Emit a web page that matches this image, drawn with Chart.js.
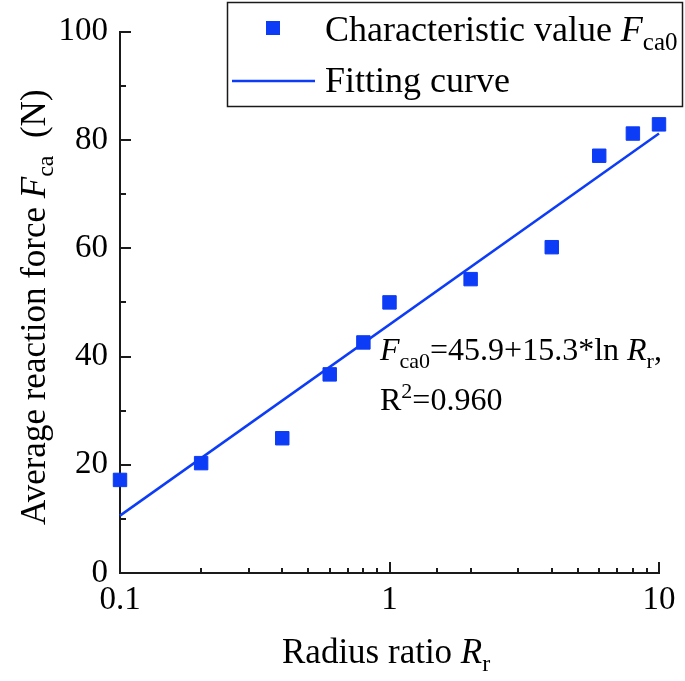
<!DOCTYPE html>
<html>
<head>
<meta charset="utf-8">
<script src="https://cdn.jsdelivr.net/npm/chart.js@4"></script>
<style>
  html, body { margin: 0; padding: 0; background: #fff; }
  #chart { display: block; }
</style>
</head>
<body>
<canvas id="chart" width="685" height="681"></canvas>
<script>
// values
const ratios = [0.1, 0.2, 0.4, 0.6, 0.8, 1, 2, 4, 6, 8, 10];
const forces = [17.2, 20.3, 24.9, 36.7, 42.6, 50.0, 54.3, 60.2, 77.1, 81.2, 82.9];
const fitX = [0.1, 10];
const fitY = [10.6, 81.2];
const yTicks = [0, 20, 40, 60, 80, 100];
const xTickLabels = [0.1, 1, 10];

const BLUE = '#0d3cf7';
const INK = '#1a1a1a';
const SERIF = '"Liberation Serif", "Times New Roman", serif';

// draws a run of text pieces: [text, italic, size, dy]
function richText(ctx, x, y, parts) {
  let cx = x;
  parts.forEach(p => {
    ctx.font = (p[1] ? 'italic ' : '') + p[2] + 'px ' + SERIF;
    ctx.fillText(p[0], cx, y + (p[3] || 0));
    cx += ctx.measureText(p[0]).width;
  });
}

const decor = {
  id: 'decor',
  afterDraw(chart) {
    const ctx = chart.ctx;
    const area = chart.chartArea;
    const xs = chart.scales.x, ys = chart.scales.y;
    ctx.save();

    // inward tick marks
    ctx.strokeStyle = INK;
    ctx.lineWidth = 2;
    ys.ticks.forEach(t => {
      const py = Math.round(ys.getPixelForValue(t.value));
      const len = t.value % 20 === 0 ? 11 : 6;
      ctx.beginPath();
      ctx.moveTo(area.left, py);
      ctx.lineTo(area.left + len, py);
      ctx.stroke();
    });
    xs.ticks.forEach(t => {
      const lg = Math.log10(t.value);
      const major = Math.abs(lg - Math.round(lg)) < 1e-6;
      const px = Math.round(xs.getPixelForValue(t.value));
      ctx.beginPath();
      ctx.moveTo(px, area.bottom);
      ctx.lineTo(px, area.bottom - (major ? 11 : 5));
      ctx.stroke();
    });

    ctx.fillStyle = '#000';
    ctx.textBaseline = 'alphabetic';
    ctx.textAlign = 'left';

    // x title
    richText(ctx, 282, 663, [['Radius ratio ', false, 35], ['R', true, 35], ['r', false, 24, 8]]);

    // y title
    ctx.save();
    ctx.translate(45, 525);
    ctx.rotate(-Math.PI / 2);
    richText(ctx, 0, 0, [['Average reaction force ', false, 35], ['F', true, 35], ['ca', false, 24, 8], ['  (N)', false, 35]]);
    ctx.restore();

    // fit equation
    richText(ctx, 380, 360, [['F', true, 32], ['ca0', false, 22, 8], ['=45.9+15.3*ln ', false, 32], ['R', true, 32], ['r', false, 22, 8], [',', false, 32]]);
    richText(ctx, 380, 410, [['R', false, 32], ['2', false, 22, -12], ['=0.960', false, 32]]);

    // legend box
    ctx.strokeStyle = INK;
    ctx.lineWidth = 1.5;
    ctx.strokeRect(227.5, 2.5, 455, 104);
    ctx.fillStyle = BLUE;
    ctx.fillRect(266, 21, 14, 14);
    ctx.strokeStyle = BLUE;
    ctx.lineWidth = 2.5;
    ctx.beginPath();
    ctx.moveTo(232, 81);
    ctx.lineTo(315, 81);
    ctx.stroke();
    ctx.fillStyle = '#000';
    richText(ctx, 325, 41, [['Characteristic value ', false, 36], ['F', true, 36], ['ca0', false, 25, 9]]);
    richText(ctx, 325, 92, [['Fitting curve', false, 36]]);

    ctx.restore();
  }
};

new Chart(document.getElementById('chart'), {
  type: 'scatter',
  data: {
    datasets: [
      {
        label: 'Fitting curve',
        data: fitX.map((x, i) => ({x: x, y: fitY[i]})),
        showLine: true,
        borderColor: BLUE,
        borderWidth: 2.5,
        pointRadius: 0,
        clip: false,
        order: 2
      },
      {
        label: 'Characteristic value',
        data: ratios.map((x, i) => ({x: x, y: forces[i]})),
        pointStyle: 'rect',
        pointRadius: 9.5,
        backgroundColor: BLUE,
        borderColor: BLUE,
        borderWidth: 1,
        clip: false,
        order: 1
      }
    ]
  },
  options: {
    responsive: false,
    animation: false,
    devicePixelRatio: 1,
    layout: { padding: { top: 31, right: 26, left: 0, bottom: 0 } },
    plugins: { legend: { display: false }, tooltip: { enabled: false } },
    scales: {
      x: {
        type: 'logarithmic',
        min: 0.1,
        max: 10,
        afterFit: s => { s.height = 108; },
        grid: { display: false, drawTicks: false },
        border: { display: true, color: INK, width: 2 },
        ticks: {
          autoSkip: false,
          maxRotation: 0,
          padding: 8,
          color: '#000',
          font: { family: SERIF, size: 33 },
          callback: v => xTickLabels.some(t => Math.abs(t - v) < 1e-9) ? String(v) : ''
        }
      },
      y: {
        min: 0,
        max: 100,
        afterFit: s => { s.width = 120; },
        grid: { display: false, drawTicks: false },
        border: { display: true, color: INK, width: 2 },
        ticks: {
          stepSize: 10,
          padding: 12,
          color: '#000',
          font: { family: SERIF, size: 33 },
          callback: v => yTicks.includes(v) ? String(v) : ''
        }
      }
    }
  },
  plugins: [decor]
});
</script>
</body>
</html>
